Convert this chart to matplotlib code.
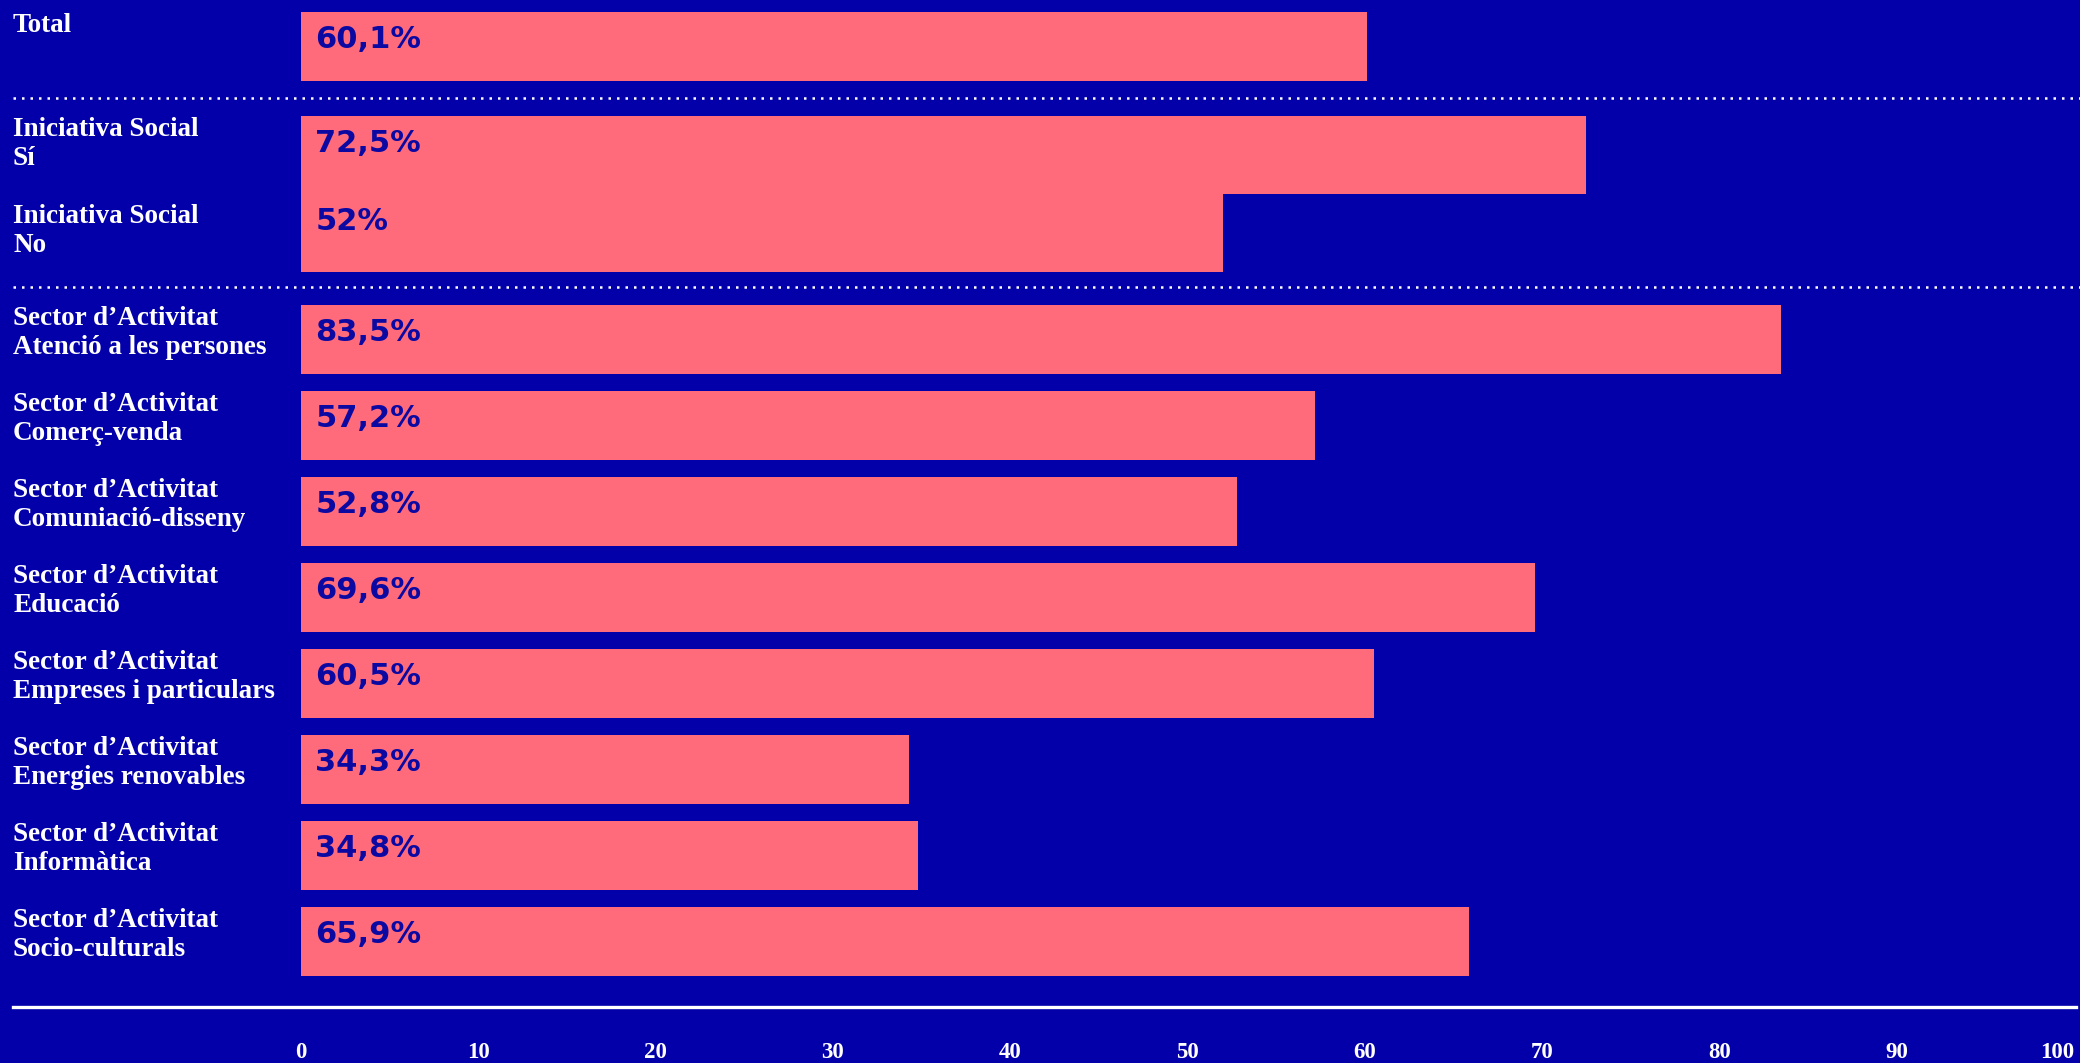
import matplotlib
matplotlib.use("Agg")
import matplotlib.pyplot as plt
from matplotlib.lines import Line2D
from matplotlib.transforms import blended_transform_factory

# ---- data ----
labels = [
    "Total",
    "Iniciativa Social\nSí",
    "Iniciativa Social\nNo",
    "Sector d\u2019Activitat\nAtenció a les persones",
    "Sector d\u2019Activitat\nComerç-venda",
    "Sector d\u2019Activitat\nComuniació-disseny",
    "Sector d\u2019Activitat\nEducació",
    "Sector d\u2019Activitat\nEmpreses i particulars",
    "Sector d\u2019Activitat\nEnergies renovables",
    "Sector d\u2019Activitat\nInformàtica",
    "Sector d\u2019Activitat\nSocio-culturals",
]
values = [60.1, 72.5, 52, 83.5, 57.2, 52.8, 69.6, 60.5, 34.3, 34.8, 65.9]
xticks = [0, 10, 20, 30, 40, 50, 60, 70, 80, 90, 100]

# ---- style ----
BG = "#0300AA"
BAR = "#FF6B7A"
VAL = "#0C09A3"
W, H = 2080, 1063

# layout, in pixels from the top of the image
bar_top = [12, 116, 194] + [305 + 86 * i for i in range(8)]
bar_h = [69, 78, 78] + [69] * 8
label_off = [1, 1, 10] + [1] * 8
centers = [t + h / 2 for t, h in zip(bar_top, bar_h)]

fig = plt.figure(figsize=(W / 100, H / 100), dpi=100, facecolor=BG)
ax_bottom = 1030
ax = fig.add_axes([301 / W, 1 - ax_bottom / H, (2074 - 301) / W, ax_bottom / H])
ax.set_facecolor(BG)
ax.set_xlim(0, 100)
ax.set_ylim(ax_bottom, 0)

ax.barh(centers, values, height=bar_h, color=BAR, linewidth=0)

fig_x = blended_transform_factory(fig.transFigure, ax.transData)
for lab, t, off in zip(labels, bar_top, label_off):
    ax.text(13 / W, t + off, lab, transform=fig_x, ha="left", va="top",
            family="Liberation Serif", weight="bold", fontsize=19.5,
            color="white", linespacing=1.22)

for v, t in zip(values, bar_top):
    txt = f"{v:g}".replace(".", ",") + "%"
    ax.text(0.8, t + 36, txt, ha="left", va="baseline",
            family="DejaVu Sans", weight="bold", fontsize=22, color=VAL)

# separators
for y in (98, 287):
    ax.add_line(Line2D([13 / W, 1], [y, y], transform=fig_x, color="white",
                       lw=1.8, linestyle=(0, (1, 2.4)), clip_on=False))
ax.add_line(Line2D([13 / W, 2076 / W], [1007, 1007], transform=fig_x,
                   color="white", lw=2.4, clip_on=False))

ax.set_xticks(xticks)
ax.set_xticklabels([str(x) for x in xticks])
ax.tick_params(axis="x", length=0, pad=9, colors="white")
for tl in ax.get_xticklabels():
    tl.set_family("Liberation Serif")
    tl.set_weight("bold")
    tl.set_fontsize(16.5)
ax.get_xticklabels()[-1].set_ha("right")
ax.set_yticks([])
for sp in ax.spines.values():
    sp.set_visible(False)

fig.savefig("out.png", dpi=100, facecolor=BG)
